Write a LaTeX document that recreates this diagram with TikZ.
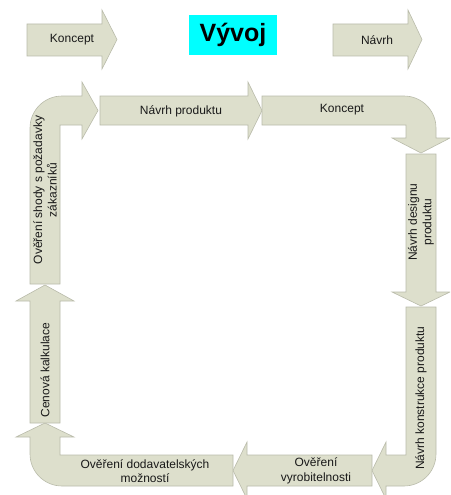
\documentclass[tikz,border=0pt]{standalone}
\usepackage{fontspec}
\setmainfont{Liberation Sans}
\definecolor{blkfill}{RGB}{221,223,204}
\definecolor{blkline}{RGB}{185,187,170}
\definecolor{txt}{RGB}{25,25,25}
\definecolor{aqua}{RGB}{0,255,255}
\begin{document}
\begin{tikzpicture}[x=1pt,y=-1pt,
  blk/.style={fill=blkfill,draw=blkline,line width=0.6pt,line join=miter},
  lbl/.style={font=\fontsize{12}{14.5}\selectfont,text=txt,inner sep=0pt,align=center}]
\useasboundingbox (0,0) rectangle (450,495);
\clip (0,0) rectangle (450,495);
% top row
\draw[blk] (27,24) -- (102,24) -- (102,10) -- (117,39.5) -- (102,69) -- (102,56) -- (27,56) -- cycle;
\draw[blk] (333,24) -- (408,24) -- (408,10) -- (422,39.5) -- (408,69) -- (408,56) -- (333,56) -- cycle;
\node[fill=aqua,minimum width=88pt,minimum height=40pt,inner sep=0pt,
  font=\fontsize{25}{30}\selectfont\bfseries] (vy) at (233,35) {Vývoj};
\node[lbl] (t1) at (72,40) {Koncept};
\node[lbl] (t2) at (377,40) {Návrh};
% loop
% A: top-left bent
\draw[blk] (30,284) -- (30,128) .. controls (30,110.3) and (44.3,96) .. (62,96) -- (82,96) -- (82,82) -- (98,110.5) -- (82,139) -- (82,125) -- (60,125) -- (60,284) -- cycle;
% B: Navrh produktu
\draw[blk] (100,96) -- (248,96) -- (248,82) -- (262,110.5) -- (248,139) -- (248,125) -- (100,125) -- cycle;
% C: top-right bent
\draw[blk] (262,96) -- (404,96) .. controls (421.7,96) and (436,110.3) .. (436,128) -- (436,138) -- (450,138) -- (421,153) -- (392,138) -- (406,138) -- (406,125) -- (262,125) -- cycle;
% D: Navrh designu
\draw[blk] (406,154) -- (436,154) -- (436,292) -- (450,292) -- (421,306) -- (392,292) -- (406,292) -- cycle;
% E: bottom-right bent
\draw[blk] (406,307) -- (436,307) -- (436,454) .. controls (436,471.7) and (421.7,486) .. (404,486) -- (386,486) -- (386,499) -- (372,470.5) -- (386,442) -- (386,455) -- (406,455) -- cycle;
% F: Overeni vyrobitelnosti
\draw[blk] (372,455) -- (247,455) -- (247,442) -- (233,470.5) -- (247,499) -- (247,486) -- (372,486) -- cycle;
% G: bottom-left bent
\draw[blk] (233,455) -- (233,486) -- (62,486) .. controls (44.3,486) and (30,471.7) .. (30,454) -- (30,437) -- (16,437) -- (45,423) -- (74,437) -- (60,437) -- (60,455) -- cycle;
% H: Cenova kalkulace
\draw[blk] (30,423) -- (30,301) -- (16,301) -- (45,285) -- (74,301) -- (60,301) -- (60,423) -- cycle;
% labels
\node[lbl,rotate=90] (s1) at (45,190) {Ověření shody s požadavky\\zákazníků};
\node[lbl] (s2) at (181,111) {Návrh produktu};
\node[lbl] (s3) at (342,110) {Koncept};
\node[lbl,rotate=90] (s4) at (421,222) {Návrh designu\\produktu};
\node[lbl,rotate=90] (s5) at (421,398) {Návrh konstrukce produktu};
\node[lbl] (s6) at (316,471) {Ověření\\vyrobitelnosti};
\node[lbl] (s7) at (145,471) {Ověření dodavatelských\\možností};
\node[lbl,rotate=90] (s8) at (45,370) {Cenová kalkulace};
\end{tikzpicture}
\end{document}
